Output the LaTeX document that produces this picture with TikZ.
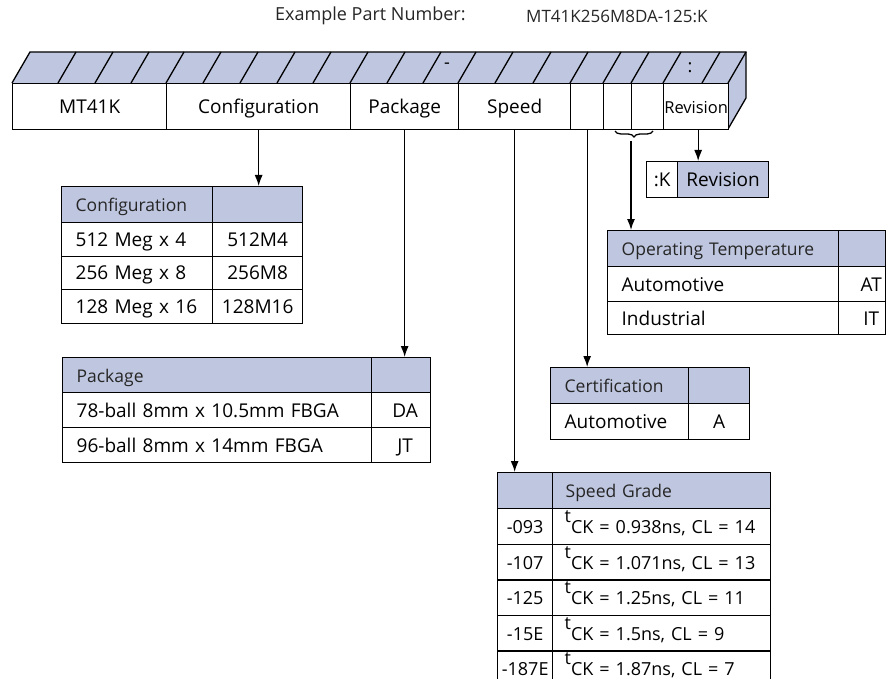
\documentclass[tikz,border=0pt]{standalone}
\usepackage{fontspec}
\setmainfont{Open Sans}
\usetikzlibrary{shapes.geometric, arrows, arrows.meta, decorations.pathreplacing}
\definecolor{hdrblue}{RGB}{191,199,224}
\newcommand{\tck}{\raisebox{11pt}{t}CK}
\tikzstyle{cell} = [draw, line width=1.3pt, anchor=north west, inner sep=0pt, text height=14pt, text depth=0pt, font=\fontsize{19}{22}\selectfont]
\tikzstyle{leftcell} = [cell, align=left, inner xsep=14pt]
\tikzstyle{head} = [cell, fill=hdrblue, text=black!85, font=\fontsize{17.5}{21}\selectfont]
\tikzstyle{lefthead} = [head, align=left, inner xsep=14pt]
\tikzstyle{frontcell} = [cell, fill=white, minimum height=46pt]
\tikzstyle{speedcell} = [cell, font=\fontsize{18}{22}\selectfont]
\tikzstyle{arrow} = [line width=1.3pt, -{Latex[length=11pt, width=8pt]}]

\begin{document}
\begin{tikzpicture}[x=1pt, y=-1pt]
    \useasboundingbox (0,0) rectangle (888,679);

    % title line
    \node (example) [anchor=west, inner sep=0pt, text=black!85, font=\fontsize{18}{21}\selectfont] at (275,16) {Example Part Number:};
    \node (partno) [anchor=west, inner sep=0pt, text=black!85, font=\fontsize{17}{21}\selectfont] at (526,16) {MT41K256M8DA-125:K};

    % top and side face of the field bar
    \fill[hdrblue] (12,83) -- (30,52) -- (746,52) -- (728,83) -- cycle;
    \fill[hdrblue] (728,83) -- (746,52) -- (746,98) -- (728,129) -- cycle;
    \foreach \x in {58,95,131,166,203,240,277,313,350,387,423,458,495,533,570,603,631,663,702}
        \draw[line width=1.3pt] (\x,83) -- ++(18,-31);
    \draw[line width=1.3pt] (12,83) -- (30,52) -- (746,52) -- (746,98) -- (728,129);
    \draw[line width=1.3pt] (728,83) -- (746,52);
    \node (dash) [font=\fontsize{18}{21}\selectfont] at (447,66) {-};
    \node (colon) [font=\fontsize{18}{21}\selectfont] at (690,68) {:};

    % front of the field bar
    \node (mt) [frontcell, minimum width=154pt] at (12,83) {MT41K};
    \node (config) [frontcell, minimum width=184pt] at (166,83) {Configuration};
    \node (package) [frontcell, minimum width=108pt] at (350,83) {Package};
    \node (speed) [frontcell, minimum width=112pt] at (458,83) {Speed};
    \node (cert) [frontcell, minimum width=33pt] at (570,83) {};
    \node (tempa) [frontcell, minimum width=28pt] at (603,83) {};
    \node (tempb) [frontcell, minimum width=32pt] at (631,83) {};
    \node (revision) [frontcell, minimum width=65pt, font=\fontsize{16.5}{19}\selectfont] at (663,83) {Revision};

    \draw[line width=1.3pt, decorate, decoration={brace, mirror, amplitude=6pt}] (615,131) -- (653,131);
    \coordinate (bracetip) at (631,141);

    % revision
    \node (revk) [cell, minimum width=31pt, minimum height=36pt] at (646,161) {:K};
    \node (revhead) [head, text=black, font=\fontsize{19}{22}\selectfont, minimum width=91pt, minimum height=36pt] at (677,161) {Revision};

    % configuration
    \node (cfghead) [lefthead, text width=123pt, minimum height=36pt] at (61,186) {Configuration};
    \node (cfgcode) [head, minimum width=90pt, minimum height=36pt] at (212,186) {};
    \node (cfgone) [leftcell, text width=123pt, minimum height=33.5pt] at (61,222) {512 Meg x 4};
    \node (cfgonecode) [cell, minimum width=90pt, minimum height=33.5pt] at (212,222) {512M4};
    \node (cfgtwo) [leftcell, text width=123pt, minimum height=33.5pt] at (61,255.5) {256 Meg x 8};
    \node (cfgtwocode) [cell, minimum width=90pt, minimum height=33.5pt] at (212,255.5) {256M8};
    \node (cfgthree) [leftcell, text width=123pt, minimum height=33.5pt] at (61,289) {128 Meg x 16};
    \node (cfgthreecode) [cell, minimum width=90pt, minimum height=33.5pt] at (212,289) {128M16};

    % package
    \node (pkghead) [lefthead, text width=281pt, minimum height=35pt] at (62,357) {Package};
    \node (pkgcode) [head, minimum width=59pt, minimum height=35pt] at (371,357) {};
    \node (pkgone) [leftcell, text width=281pt, minimum height=35pt] at (62,392) {78-ball 8mm x 10.5mm FBGA};
    \node (pkgonecode) [cell, minimum width=59pt, minimum height=35pt] at (371,392) {DA\hspace*{-8pt}};
    \node (pkgtwo) [leftcell, text width=281pt, minimum height=35pt] at (62,427) {96-ball 8mm x 14mm FBGA};
    \node (pkgtwocode) [cell, minimum width=59pt, minimum height=35pt] at (371,427) {JT\hspace*{-8pt}};

    % operating temperature
    \node (temphead) [lefthead, text width=203pt, minimum height=36pt] at (607,230) {Operating Temperature};
    \node (tempcode) [head, minimum width=47pt, minimum height=36pt] at (838,230) {};
    \node (tempauto) [leftcell, text width=203pt, minimum height=35pt] at (607,266) {Automotive};
    \node (tempat) [cell, minimum width=47pt, minimum height=35pt] at (838,266) {\hspace*{18pt}AT};
    \node (tempind) [leftcell, text width=203pt, minimum height=33pt] at (607,301) {Industrial};
    \node (tempit) [cell, minimum width=47pt, minimum height=33pt] at (838,301) {\hspace*{18pt}IT};

    % certification
    \node (certhead) [lefthead, text width=110pt, minimum height=36pt] at (550,367) {Certification};
    \node (certcode) [head, minimum width=61pt, minimum height=36pt] at (688,367) {};
    \node (certauto) [leftcell, text width=110pt, minimum height=36pt] at (550,403) {Automotive};
    \node (certa) [cell, minimum width=61pt, minimum height=36pt] at (688,403) {A};

    % speed grade
    \node (spdcode) [head, minimum width=55pt, minimum height=36pt] at (497,472) {};
    \node (spdhead) [lefthead, inner xsep=13pt, text width=192pt, minimum height=36pt] at (552,472) {Speed Grade};
    \node (spdone) [speedcell, minimum width=55pt, minimum height=35.6pt] at (497,508) {-093};
    \node (spdonet) [speedcell, align=left, inner xsep=12pt, text width=194pt, minimum height=35.6pt] at (552,508) {\mbox{\tck{} = 0.938ns, CL = 14}};
    \node (spdtwo) [speedcell, minimum width=55pt, minimum height=35.6pt] at (497,543.6) {-107};
    \node (spdtwot) [speedcell, align=left, inner xsep=12pt, text width=194pt, minimum height=35.6pt] at (552,543.6) {\mbox{\tck{} = 1.071ns, CL = 13}};
    \node (spdthree) [speedcell, minimum width=55pt, minimum height=35.6pt] at (497,579.2) {-125};
    \node (spdthreet) [speedcell, align=left, inner xsep=12pt, text width=194pt, minimum height=35.6pt] at (552,579.2) {\mbox{\tck{} = 1.25ns, CL = 11}};
    \node (spdfour) [speedcell, minimum width=55pt, minimum height=35.6pt] at (497,614.8) {-15E};
    \node (spdfourt) [speedcell, align=left, inner xsep=12pt, text width=194pt, minimum height=35.6pt] at (552,614.8) {\mbox{\tck{} = 1.5ns, CL = 9}};
    \node (spdfive) [speedcell, minimum width=55pt, minimum height=35.6pt] at (497,650.4) {-187E};
    \node (spdfivet) [speedcell, align=left, inner xsep=12pt, text width=194pt, minimum height=35.6pt] at (552,650.4) {\mbox{\tck{} = 1.87ns, CL = 7}};

    % arrows
    \draw [arrow] (config.south) -- (config.south |- cfghead.north);
    \draw [arrow] (package.south) -- (package.south |- pkghead.north);
    \draw [arrow] (speed.south) -- (speed.south |- spdcode.north);
    \draw [arrow] (cert.south) -- (cert.south |- certhead.north);
    \draw [arrow] (bracetip) -- (bracetip |- temphead.north);
    \draw [arrow] ([xshift=2pt]revision.south) -- ([xshift=2pt]revision.south |- revhead.north);
\end{tikzpicture}
\end{document}
